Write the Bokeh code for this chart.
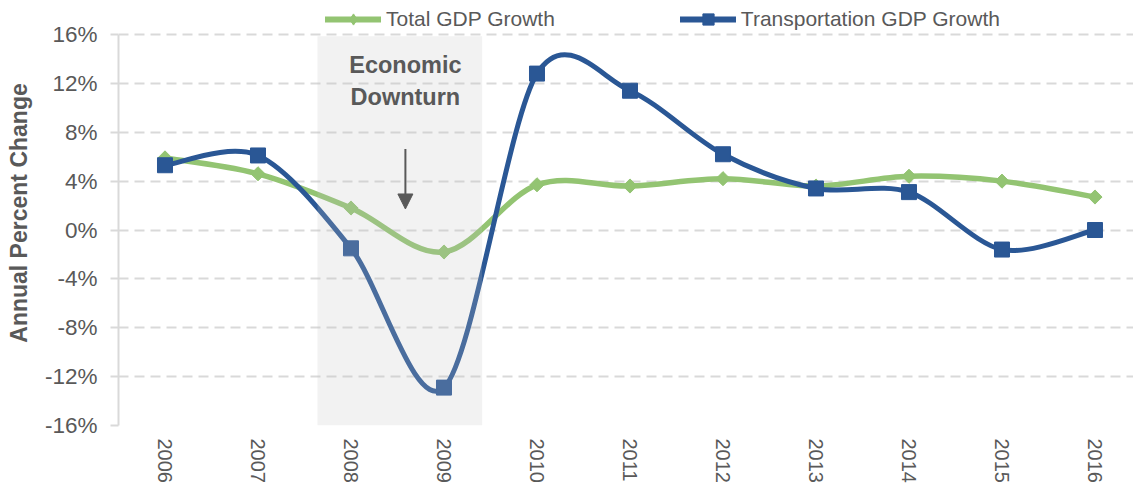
import math
from bokeh.plotting import figure
from bokeh.models import (BoxAnnotation, Label, Arrow, NormalHead, Legend, LegendItem,
                          FixedTicker, PrintfTickFormatter, Range1d, ColumnDataSource)
from bokeh.embed import file_html
from bokeh.resources import INLINE

years = [2006, 2007, 2008, 2009, 2010, 2011, 2012, 2013, 2014, 2015, 2016]
total_gdp = [5.9, 4.6, 1.8, -1.8, 3.7, 3.6, 4.2, 3.6, 4.4, 4.0, 2.7]
transport_gdp = [5.3, 6.1, -1.5, -12.9, 12.8, 11.4, 6.2, 3.4, 3.1, -1.6, 0.0]
y_ticks = [-16, -12, -8, -4, 0, 4, 8, 12, 16]
downturn_start = 2007.64
downturn_end = 2009.41
annotation_text = ["Economic", "Downturn"]

GREEN = "#93C472"
BLUE = "#2A5795"
GREY_TXT = "#595959"
FONT = "Liberation Sans"

Y_MIN, Y_MAX = -16, 16
# extra headroom above the axis so the legend sits inside the frame
Y_TOP = Y_MIN + (Y_MAX - Y_MIN) * 425.0 / 391.0


def smooth_segments(xs, ys, k=1.0 / 6.0):
    n = len(xs)
    seg = dict(x0=[], y0=[], x1=[], y1=[], cx0=[], cy0=[], cx1=[], cy1=[])
    for i in range(n - 1):
        a = max(i - 1, 0)
        d = min(i + 2, n - 1)
        seg["x0"].append(xs[i]); seg["y0"].append(ys[i])
        seg["x1"].append(xs[i + 1]); seg["y1"].append(ys[i + 1])
        seg["cx0"].append(xs[i] + (xs[i + 1] - xs[a]) * k)
        seg["cy0"].append(ys[i] + (ys[i + 1] - ys[a]) * k)
        seg["cx1"].append(xs[i + 1] - (xs[d] - xs[i]) * k)
        seg["cy1"].append(ys[i + 1] - (ys[d] - ys[i]) * k)
    return ColumnDataSource(seg)


p = figure(width=1133, height=485, output_backend="svg", toolbar_location=None,
           x_range=Range1d(2005.5, 2016.414), y_range=Range1d(Y_MIN, Y_TOP),
           min_border_left=118, min_border_right=0, min_border_top=0, min_border_bottom=60)
p.outline_line_color = None
p.background_fill_color = "white"
p.border_fill_color = "white"

# legend proxies (single point each, hidden under the real markers)
g_leg_line = p.line([years[0]], [total_gdp[0]], line_color=GREEN, line_width=6, line_cap="round")
g_leg_mark = p.scatter([years[0]], [total_gdp[0]], marker="diamond", size=13,
                       fill_color=GREEN, line_color=GREEN)
b_leg_line = p.line([years[0]], [transport_gdp[0]], line_color=BLUE, line_width=6, line_cap="round")
b_leg_mark = p.scatter([years[0]], [transport_gdp[0]], marker="square", size=12,
                       fill_color=BLUE, line_color=BLUE)

# lines
gs = smooth_segments(years, total_gdp)
p.bezier(source=gs, x0="x0", y0="y0", x1="x1", y1="y1", cx0="cx0", cy0="cy0",
         cx1="cx1", cy1="cy1", line_color=GREEN, line_width=5.5, line_cap="round")
p.scatter(years, total_gdp, marker="square", angle=math.pi / 4, size=10,
          fill_color=GREEN, line_color=GREEN)

bs = smooth_segments(years, transport_gdp, k=0.155)
p.bezier(source=bs, x0="x0", y0="y0", x1="x1", y1="y1", cx0="cx0", cy0="cy0",
         cx1="cx1", cy1="cy1", line_color=BLUE, line_width=5, line_cap="round")
p.scatter(years, transport_gdp, marker="square", size=15, fill_color=BLUE, line_color=BLUE)

# downturn shading (drawn over lines, lightening them)
p.add_layout(BoxAnnotation(left=downturn_start, right=downturn_end, top=Y_MAX - 0.15, bottom=Y_MIN,
                           fill_color="#C0C0C0", fill_alpha=0.21, line_color=None))

cx = (downturn_start + downturn_end) / 2 + 0.06
p.add_layout(Label(x=cx, y=13.5, text=annotation_text[0],
                   text_align="center", text_baseline="middle", text_font=FONT,
                   text_font_style="bold", text_font_size="23.5px", text_color=GREY_TXT))
p.add_layout(Label(x=cx, y=10.9, text=annotation_text[1],
                   text_align="center", text_baseline="middle", text_font=FONT,
                   text_font_style="bold", text_font_size="23.5px", text_color=GREY_TXT))
p.add_layout(Arrow(end=NormalHead(size=15, fill_color=GREY_TXT, line_color=GREY_TXT),
                   x_start=cx, y_start=6.63, x_end=cx, y_end=1.72,
                   line_color=GREY_TXT, line_width=2))

# axes
p.yaxis.ticker = FixedTicker(ticks=y_ticks)
p.yaxis.bounds = (Y_MIN, Y_MAX)
p.yaxis.formatter = PrintfTickFormatter(format="%d%%")
p.yaxis.axis_label = "Annual Percent Change"
p.yaxis.axis_label_text_font = FONT
p.yaxis.axis_label_text_font_style = "bold"
p.yaxis.axis_label_text_font_size = "23px"
p.yaxis.axis_label_text_color = GREY_TXT
p.yaxis.axis_label_standoff = 10
p.yaxis.axis_line_color = "#D9D9D9"
p.yaxis.axis_line_width = 2
p.yaxis.major_tick_out = 8
p.yaxis.major_tick_in = 0
p.yaxis.major_tick_line_color = "#D9D9D9"
p.yaxis.major_tick_line_width = 2
p.yaxis.minor_tick_line_color = None
p.yaxis.major_label_text_font = FONT
p.yaxis.major_label_text_font_size = "22.5px"
p.yaxis.major_label_text_color = GREY_TXT
p.yaxis.major_label_standoff = 13

p.xaxis.ticker = FixedTicker(ticks=years)
p.xaxis.formatter = PrintfTickFormatter(format="%d")
p.xaxis.major_label_orientation = "vertical"
p.xaxis.axis_line_color = None
p.xaxis.major_tick_line_color = None
p.xaxis.major_tick_out = 0
p.xaxis.major_tick_in = 0
p.xaxis.minor_tick_line_color = None
p.xaxis.major_label_text_font = FONT
p.xaxis.major_label_text_font_size = "20px"
p.xaxis.major_label_text_color = GREY_TXT
p.xaxis.major_label_standoff = 13

p.xgrid.grid_line_color = None
p.ygrid.ticker = FixedTicker(ticks=y_ticks)
p.ygrid.grid_line_color = "#D9D9D9"
p.ygrid.grid_line_width = 2
p.ygrid.grid_line_dash = "10 6"

legend = Legend(items=[LegendItem(label="Total GDP Growth", renderers=[g_leg_line, g_leg_mark]),
                       LegendItem(label="Transportation GDP Growth", renderers=[b_leg_line, b_leg_mark])],
                orientation="horizontal", location=(207, 392), spacing=125,
                label_text_font=FONT, label_text_font_size="21px", label_text_color=GREY_TXT,
                glyph_width=56, glyph_height=28, label_height=28, label_standoff=5,
                padding=0, margin=0, border_line_color=None, background_fill_alpha=0)
p.add_layout(legend, "center")

open("out.html", "w").write(file_html(p, INLINE))
